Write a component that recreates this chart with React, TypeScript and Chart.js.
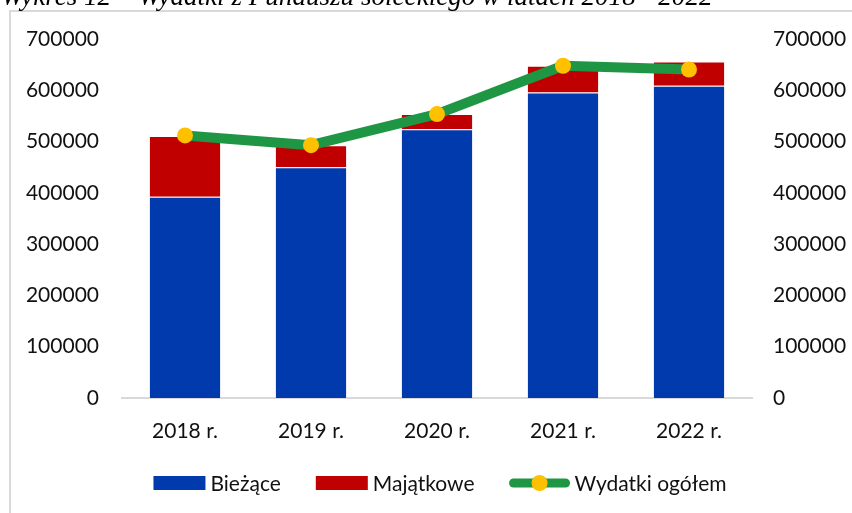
import React, { useEffect, useRef } from 'react';
import { Chart, registerables } from 'chart.js';

Chart.register(...registerables);

const categories = ['2018 r.', '2019 r.', '2020 r.', '2021 r.', '2022 r.'];
const biezace = [392400, 449700, 523800, 595900, 608800];
const majatkowe = [118300, 43300, 29800, 51900, 47500];
const ogolem = [512000, 493000, 553600, 647800, 640500];
const seriesLabels = ['Bieżące', 'Majątkowe', 'Wydatki ogółem'];
const titleText = 'Wykres 12 – Wydatki z Funduszu sołeckiego w latach 2018 - 2022';
const axisMin = 0;
const axisMax = 700000;
const axisStep = 100000;

const FONT_FAMILY = 'Lato, "Open Sans", "Noto Sans", sans-serif';
const FONT_SIZE = 21;
const TEXT_COLOR = '#111111';
const BLUE = '#003AAD';
const RED = '#C00000';
const GREEN = '#1E9643';
const YELLOW = '#FFC000';

const decorPlugin = {
  id: 'decor',
  beforeDraw(chart: any) {
    const ctx = chart.ctx as CanvasRenderingContext2D;
    ctx.save();
    ctx.fillStyle = '#ffffff';
    ctx.fillRect(0, 0, chart.width, chart.height);
    ctx.strokeStyle = '#d9d9d9';
    ctx.lineWidth = 2;
    ctx.strokeRect(10, 11, chart.width + 20, chart.height + 20);
    const serif = '"Liberation Serif", "Times New Roman", serif';
    ctx.font = `italic 20px ${serif}`;
    const w = ctx.measureText(titleText).width;
    const size = (20 * 712) / w;
    ctx.font = `italic ${size}px ${serif}`;
    ctx.fillStyle = '#000000';
    ctx.textBaseline = 'alphabetic';
    ctx.textAlign = 'left';
    ctx.fillText(titleText, 1, 5);
    ctx.restore();
  },
  afterDraw(chart: any) {
    const ctx = chart.ctx as CanvasRenderingContext2D;
    ctx.save();
    ctx.font = `${FONT_SIZE}px ${FONT_FAMILY}`;
    const ds = chart.data.datasets;
    const symbolW = [52, 52, 60];
    const gap = 5;
    const spacing = 35;
    const textW = ds.map((d: any) => ctx.measureText(d.label).width);
    let total = spacing * (ds.length - 1);
    ds.forEach((_: any, i: number) => (total += symbolW[i] + gap + textW[i]));
    let x = 440 - total / 2;
    const cy = 483;
    ds.forEach((d: any, i: number) => {
      if (d.type === 'line') {
        ctx.strokeStyle = d.borderColor;
        ctx.lineWidth = 9;
        ctx.lineCap = 'round';
        ctx.beginPath();
        ctx.moveTo(x + 4, cy);
        ctx.lineTo(x + symbolW[i] - 4, cy);
        ctx.stroke();
        ctx.fillStyle = d.pointBackgroundColor;
        ctx.beginPath();
        ctx.arc(x + symbolW[i] / 2, cy, 8, 0, Math.PI * 2);
        ctx.fill();
      } else {
        ctx.fillStyle = d.backgroundColor;
        ctx.fillRect(x, cy - 7, symbolW[i], 14);
      }
      ctx.fillStyle = TEXT_COLOR;
      ctx.textBaseline = 'middle';
      ctx.textAlign = 'left';
      ctx.fillText(d.label, x + symbolW[i] + gap, cy + 1);
      x += symbolW[i] + gap + textW[i] + spacing;
    });
    ctx.restore();
  },
};

export default function App() {
  const ref = useRef<HTMLCanvasElement | null>(null);

  useEffect(() => {
    if (!ref.current) return;
    const tickFont = { family: FONT_FAMILY, size: FONT_SIZE };
    const chart = new Chart(ref.current, {
      type: 'bar',
      data: {
        labels: categories,
        datasets: [
          {
            type: 'bar',
            label: seriesLabels[0],
            data: biezace,
            backgroundColor: BLUE,
            borderColor: 'rgba(255,255,255,0.35)',
            borderWidth: 1,
            yAxisID: 'y',
            order: 1,
          },
          {
            type: 'bar',
            label: seriesLabels[1],
            data: majatkowe,
            backgroundColor: RED,
            borderColor: 'rgba(255,255,255,0.35)',
            borderWidth: 1,
            yAxisID: 'y',
            order: 1,
          },
          {
            type: 'line',
            label: seriesLabels[2],
            data: ogolem,
            borderColor: GREEN,
            borderWidth: 10,
            borderCapStyle: 'round',
            borderJoinStyle: 'round',
            pointRadius: 8,
            pointBackgroundColor: YELLOW,
            pointBorderWidth: 0,
            pointBorderColor: YELLOW,
            tension: 0,
            yAxisID: 'y2',
            order: 0,
          } as any,
        ],
      },
      options: {
        animation: false,
        responsive: false,
        devicePixelRatio: 1,
        layout: { padding: { left: 10, right: 0, top: 39, bottom: 0 } },
        plugins: {
          legend: { display: false },
          tooltip: { enabled: false },
          title: { display: false },
        },
        datasets: {
          bar: { barPercentage: 0.573, categoryPercentage: 1 },
        },
        scales: {
          x: {
            stacked: true,
            grid: { display: false, drawTicks: false },
            border: { display: true, color: '#d9d9d9', width: 2 },
            ticks: { font: tickFont, color: TEXT_COLOR, padding: 21, maxRotation: 0 },
            afterFit: (s: any) => {
              s.height = 115;
            },
          },
          y: {
            stacked: true,
            position: 'left',
            min: axisMin,
            max: axisMax,
            grid: { display: false, drawTicks: false },
            border: { display: false },
            ticks: {
              stepSize: axisStep,
              font: tickFont,
              color: TEXT_COLOR,
              padding: 23,
              callback: (v: any) => String(v),
            },
            afterFit: (s: any) => {
              s.width = 112;
            },
          },
          y2: {
            position: 'right',
            min: axisMin,
            max: axisMax,
            grid: { display: false, drawTicks: false },
            border: { display: false },
            ticks: {
              stepSize: axisStep,
              font: tickFont,
              color: TEXT_COLOR,
              padding: 21,
              callback: (v: any) => String(v),
            },
            afterFit: (s: any) => {
              s.width = 100;
            },
          },
        },
      } as any,
      plugins: [decorPlugin],
    });
    return () => chart.destroy();
  }, []);

  return (
    <div style={{ position: 'fixed', left: 0, top: 0, width: 852, height: 513, background: '#fff' }}>
      <canvas ref={ref} width={852} height={513} style={{ display: 'block', width: 852, height: 513 }} />
    </div>
  );
}
